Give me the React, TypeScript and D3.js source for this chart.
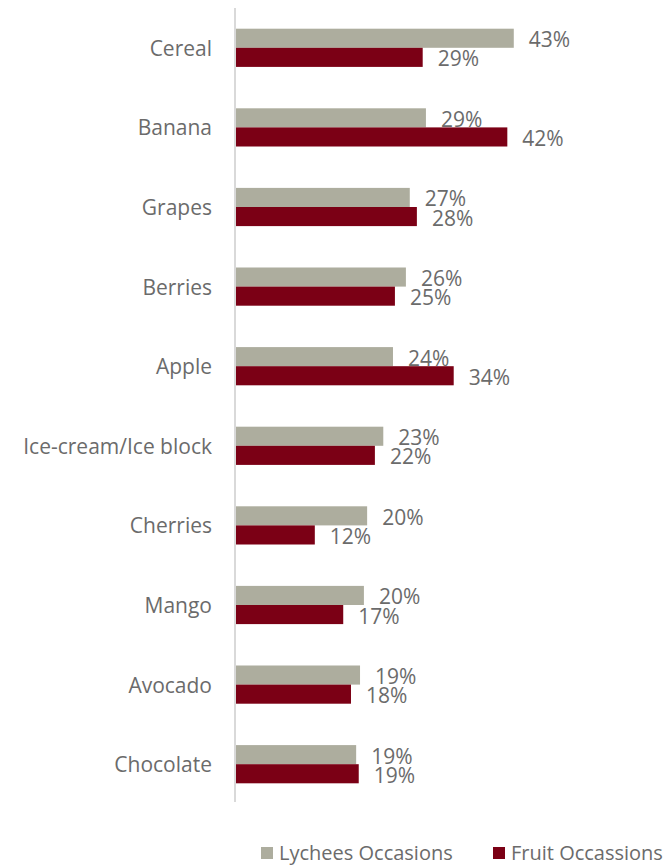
import React from "react";
import * as d3 from "d3";

const categories = ["Cereal","Banana","Grapes","Berries","Apple","Ice-cream/Ice block","Cherries","Mango","Avocado","Chocolate"];
const lycheesValues = [43.0,29.4,26.9,26.3,24.3,22.8,20.3,19.8,19.2,18.6];
const fruitValues = [28.9,42.0,28.0,24.6,33.7,21.5,12.2,16.6,17.8,19.0];
const seriesNames = ["Lychees Occasions","Fruit Occassions"];
const colors = ["#ADAD9E","#7B0015"];

const W = 671, H = 866;
const FONT = "'Open Sans', sans-serif";
const TXT = "#6B6B6B";

export default function App() {
  const x0 = 236;
  const x = d3.scaleLinear().domain([0, 100]).range([x0, x0 + 646]);
  const y = d3.scaleBand().domain(categories).range([8, 804]).paddingInner(0.52).paddingOuter(0.26);
  const inner = d3.scaleBand().domain(["l","f"]).range([0, y.bandwidth()]);
  const fmt = (v: number) => `${Math.round(v)}%`;
  return (
    <svg width={W} height={H} style={{ position: "absolute", left: 0, top: 0 }}>
      <rect width={W} height={H} fill="#fff" />
      <line x1={x0 - 1} x2={x0 - 1} y1={8} y2={802} stroke="#D9D9D9" strokeWidth={2} />
      {categories.map((c, i) => {
        const yb = y(c)!;
        const yl = yb + inner("l")!;
        const yf = yb + inner("f")!;
        const h = inner.bandwidth();
        return (
          <g key={c}>
            <text x={212} y={yb + y.bandwidth() / 2} textAnchor="end" dominantBaseline="central"
              fontFamily={FONT} fontSize={21} fill={TXT}>{c}</text>
            <rect x={x0} y={yl} width={x(lycheesValues[i]) - x0} height={h} fill={colors[0]} />
            <rect x={x0} y={yf} width={x(fruitValues[i]) - x0} height={h} fill={colors[1]} />
            <text x={x(lycheesValues[i]) + 15} y={yl + h / 2 + 1} dominantBaseline="central"
              fontFamily={FONT} fontSize={21} fill={TXT}>{fmt(lycheesValues[i])}</text>
            <text x={x(fruitValues[i]) + 15} y={yf + h / 2 + 1} dominantBaseline="central"
              fontFamily={FONT} fontSize={21} fill={TXT}>{fmt(fruitValues[i])}</text>
          </g>
        );
      })}
      {seriesNames.map((n, i) => {
        const lx = i === 0 ? 261 : 493;
        return (
          <g key={n}>
            <rect x={lx} y={847} width={12} height={12} fill={colors[i]} />
            <text x={lx + 18} y={852} dominantBaseline="central" fontFamily={FONT} fontSize={20} fill={TXT}>{n}</text>
          </g>
        );
      })}
    </svg>
  );
}
